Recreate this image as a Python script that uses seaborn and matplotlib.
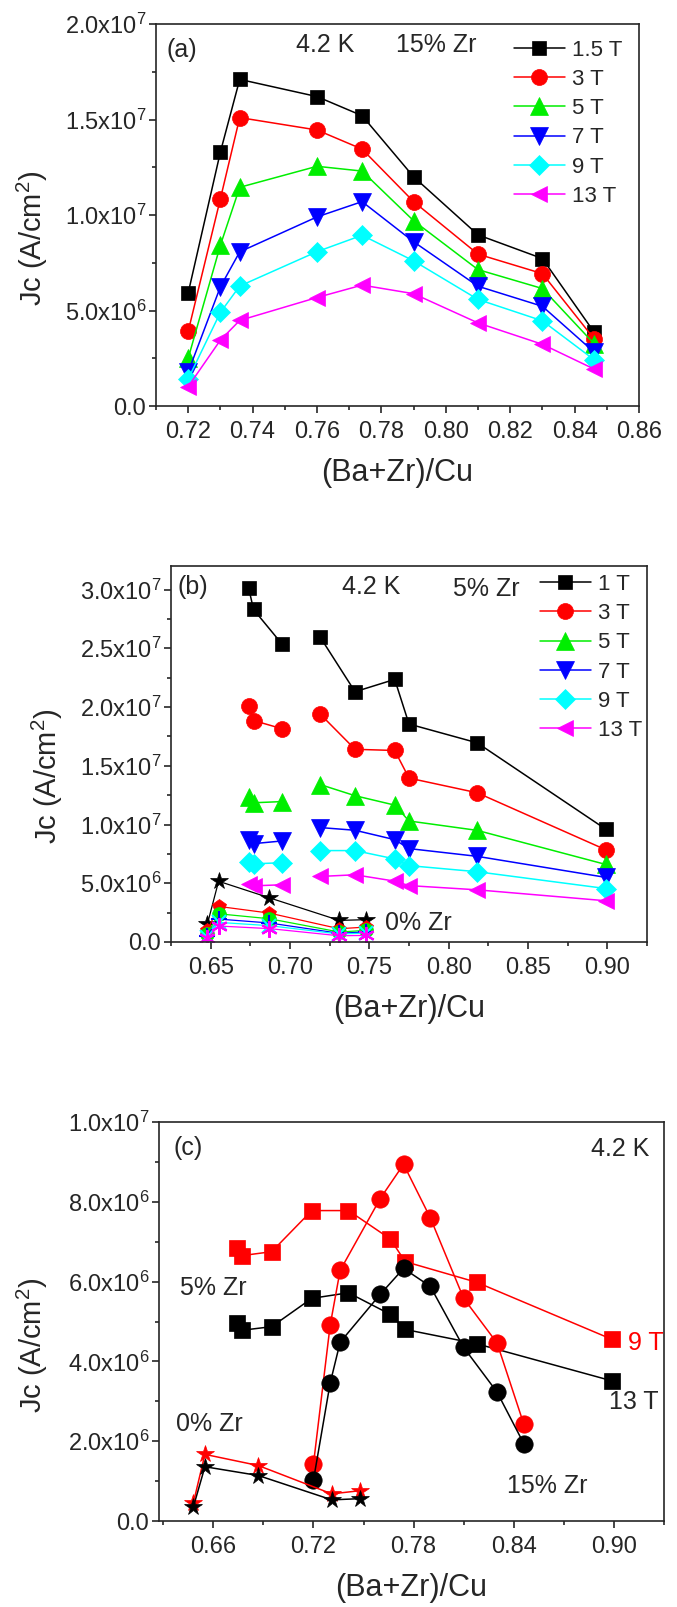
import numpy as np
import pandas as pd
import matplotlib
matplotlib.use("Agg")
import matplotlib.pyplot as plt
import seaborn as sns
from matplotlib.ticker import FuncFormatter, MultipleLocator

# ---------------- data ----------------
# 15% Zr samples
x15 = [0.720, 0.730, 0.736, 0.760, 0.774, 0.790, 0.810, 0.830, 0.846]
a_1p5T = [5.92e6, 13.3e6, 17.1e6, 16.2e6, 15.2e6, 12.0e6, 8.96e6, 7.72e6, 3.88e6]
a_3T = [3.91e6, 10.85e6, 15.1e6, 14.45e6, 13.45e6, 10.7e6, 7.95e6, 6.93e6, 3.53e6]
a_5T = [2.5e6, 8.42e6, 11.45e6, 12.55e6, 12.3e6, 9.7e6, 7.14e6, 6.15e6, 3.27e6]
a_7T = [1.78e6, 6.24e6, 8.07e6, 9.9e6, 10.7e6, 8.6e6, 6.27e6, 5.22e6, 2.83e6]
a_9T = [1.42e6, 4.9e6, 6.28e6, 8.08e6, 8.94e6, 7.6e6, 5.58e6, 4.46e6, 2.43e6]
a_13T = [1.02e6, 3.45e6, 4.48e6, 5.68e6, 6.33e6, 5.88e6, 4.35e6, 3.23e6, 1.94e6]
labels_a = ["1.5 T", "3 T", "5 T", "7 T", "9 T", "13 T"]

# 5% Zr samples
x5 = [0.674, 0.677, 0.695, 0.719, 0.741, 0.766, 0.775, 0.818, 0.899]
b_1T = [30.1e6, 28.3e6, 25.35e6, 25.95e6, 21.3e6, 22.35e6, 18.55e6, 16.95e6, 9.6e6]
b_3T = [20.05e6, 18.85e6, 18.15e6, 19.4e6, 16.4e6, 16.3e6, 13.95e6, 12.7e6, 7.85e6]
b_5T = [12.3e6, 11.85e6, 11.95e6, 13.4e6, 12.45e6, 11.65e6, 10.3e6, 9.5e6, 6.6e6]
b_7T = [8.66e6, 8.37e6, 8.6e6, 9.74e6, 9.51e6, 8.71e6, 7.95e6, 7.29e6, 5.5e6]
b_9T = [6.85e6, 6.65e6, 6.75e6, 7.78e6, 7.78e6, 7.07e6, 6.5e6, 5.98e6, 4.55e6]
b_13T = [4.96e6, 4.78e6, 4.87e6, 5.58e6, 5.72e6, 5.18e6, 4.80e6, 4.44e6, 3.51e6]
labels_b = ["1 T", "3 T", "5 T", "7 T", "9 T", "13 T"]

# 0% Zr samples
x0 = [0.648, 0.655, 0.687, 0.731, 0.748]
z_1T = [1.56e6, 5.17e6, 3.76e6, 1.84e6, 1.90e6]
z_3T = [1.0e6, 3.03e6, 2.46e6, 1.13e6, 1.27e6]
z_5T = [0.71e6, 2.4e6, 1.98e6, 0.85e6, 0.99e6]
z_7T = [0.55e6, 1.95e6, 1.62e6, 0.74e6, 0.86e6]
z_9T = [0.44e6, 1.67e6, 1.39e6, 0.68e6, 0.76e6]
z_13T = [0.34e6, 1.36e6, 1.14e6, 0.53e6, 0.56e6]

# ---------------- style ----------------
sns.set_style("ticks")
plt.rcParams["font.family"] = ["Liberation Sans", "DejaVu Sans"]
plt.rcParams["mathtext.fontset"] = "custom"
plt.rcParams["mathtext.rm"] = "Liberation Sans"
plt.rcParams["mathtext.it"] = "Liberation Sans:italic"
plt.rcParams["mathtext.default"] = "regular"
plt.rcParams["axes.linewidth"] = 1.2

colors = ["#000000", "#FF0000", "#00EE00", "#0000FF", "#00FFFF", "#FF00FF"]
markers = ["s", "o", "^", "v", "D", "<"]
msizes = [10.5, 11.5, 13, 13, 10.5, 12]

TICK = 17
LAB = 21
ANN = 18
LEG = 16


def sci(v, pos):
    if v <= 1e-9:
        return "0.0"
    e = int(np.floor(np.log10(v) + 1e-9))
    m = v / 10 ** e
    return f"{m:.1f}x10$^{{{e}}}$"


def style_axes(ax, xmaj, xmin, ymaj, ymin, ylab_x):
    ax.xaxis.set_major_locator(MultipleLocator(xmaj))
    ax.xaxis.set_minor_locator(MultipleLocator(xmin))
    ax.yaxis.set_major_locator(MultipleLocator(ymaj))
    ax.yaxis.set_minor_locator(MultipleLocator(ymin))
    ax.yaxis.set_major_formatter(FuncFormatter(sci))
    ax.tick_params(which="major", direction="out", length=5, width=1.2,
                   labelsize=TICK, top=False, right=False)
    ax.tick_params(which="minor", direction="out", length=3, width=1.2,
                   top=False, right=False)
    ax.tick_params(axis="x", which="major", pad=6)
    ax.tick_params(axis="y", which="major", pad=2)
    for s in ax.spines.values():
        s.set_visible(True)
        s.set_linewidth(1.2)
    ax.set_ylabel("Jc (A/cm$^{2}$)", fontsize=LAB)
    ax.yaxis.set_label_coords(ylab_x, 0.44)
    ax.set_xlabel("(Ba+Zr)/Cu", fontsize=22, labelpad=10.5)


def line(ax, x, y, color, marker, ms, label=None, lw=1.1):
    sns.lineplot(x=x, y=y, ax=ax, color=color, marker=marker, markersize=ms,
                 markeredgecolor=color, markeredgewidth=0.5, linewidth=lw,
                 sort=False, estimator=None, label=label, legend=False)


W, H = 677, 1607
fig = plt.figure(figsize=(W / 100, H / 100), dpi=100)


def add_ax(l, r, t, b):
    return fig.add_axes([l / W, 1 - b / H, (r - l) / W, (b - t) / H])


leg_kw = dict(loc="upper left", frameon=False, fontsize=LEG, handlelength=2.3,
              handletextpad=0.3, labelspacing=0.37, borderaxespad=0,
              borderpad=0, numpoints=1)

# ---------------- panel (a) ----------------
ax1 = add_ax(156, 639, 24, 406)
series_a = [a_1p5T, a_3T, a_5T, a_7T, a_9T, a_13T]
for y, c, m, ms, lab in zip(series_a, colors, markers, msizes, labels_a):
    line(ax1, x15, y, c, m, ms, label=lab)
ax1.set_xlim(0.71, 0.86)
ax1.set_ylim(0, 2.0e7)
style_axes(ax1, 0.02, 0.01, 5e6, 2.5e6, -0.219)
ax1.legend(bbox_to_anchor=(0.741, 0.959), **leg_kw)
ax1.text(0.021, 0.932, "(a)", transform=ax1.transAxes, fontsize=ANN, va="center", ha="left")
ax1.text(0.29, 0.945, "4.2 K", transform=ax1.transAxes, fontsize=ANN, va="center", ha="left")
ax1.text(0.497, 0.945, "15% Zr", transform=ax1.transAxes, fontsize=ANN, va="center", ha="left")

# ---------------- panel (b) ----------------
ax2 = add_ax(171, 647, 566, 942)
series_b = [b_1T, b_3T, b_5T, b_7T, b_9T, b_13T]
for y, c, m, ms, lab in zip(series_b, colors, markers, msizes, labels_b):
    line(ax2, x5[:3], y[:3], c, m, ms, label=lab)
    line(ax2, x5[3:], y[3:], c, m, ms)

series_z = [z_1T, z_3T, z_5T, z_7T, z_9T, z_13T]
z_markers = ["*", "p", "o", "+", "x", (6, 2, 0)]
z_ms = [13, 10, 10, 12, 10, 12]
for y, c, m, ms in zip(series_z, colors, z_markers, z_ms):
    thin = m in ("+", "x") or isinstance(m, tuple)
    sns.lineplot(x=x0, y=y, ax=ax2, color=c, marker=m, markersize=ms,
                 markeredgecolor=c, markeredgewidth=1.5 if thin else 0.5,
                 linewidth=0.9, sort=False, estimator=None, legend=False)
ax2.set_xlim(0.625, 0.925)
ax2.set_ylim(0, 3.2e7)
style_axes(ax2, 0.05, 0.025, 5e6, 2.5e6, -0.223)
ax2.legend(bbox_to_anchor=(0.775, 0.979), **leg_kw)
ax2.text(0.013, 0.944, "(b)", transform=ax2.transAxes, fontsize=ANN, va="center", ha="left")
ax2.text(0.359, 0.944, "4.2 K", transform=ax2.transAxes, fontsize=ANN, va="center", ha="left")
ax2.text(0.592, 0.939, "5% Zr", transform=ax2.transAxes, fontsize=ANN, va="center", ha="left")
ax2.text(0.45, 0.05, "0% Zr", transform=ax2.transAxes, fontsize=ANN, va="center", ha="left")

# ---------------- panel (c) ----------------
ax3 = add_ax(159, 664, 1122, 1521)
red, black = "#FF0000", "#000000"
line(ax3, x5, b_9T, red, "s", 11)
line(ax3, x5, b_13T, black, "s", 11)
line(ax3, x15, a_9T, red, "o", 12.5)
line(ax3, x15, a_13T, black, "o", 12.5)
line(ax3, x0, z_9T, red, "*", 13)
line(ax3, x0, z_13T, black, "*", 13)
ax3.set_xlim(0.6275, 0.93)
ax3.set_ylim(0, 1.0e7)
style_axes(ax3, 0.06, 0.03, 2e6, 1e6, -0.216)
ax3.text(0.028, 0.935, "(c)", transform=ax3.transAxes, fontsize=ANN, va="center", ha="left")
ax3.text(0.855, 0.932, "4.2 K", transform=ax3.transAxes, fontsize=ANN, va="center", ha="left")
ax3.text(0.042, 0.584, "5% Zr", transform=ax3.transAxes, fontsize=ANN, va="center", ha="left")
ax3.text(0.034, 0.243, "0% Zr", transform=ax3.transAxes, fontsize=ANN, va="center", ha="left")
ax3.text(0.689, 0.088, "15% Zr", transform=ax3.transAxes, fontsize=ANN, va="center", ha="left")
ax3.text(0.929, 0.446, "9 T", transform=ax3.transAxes, fontsize=ANN, va="center", ha="left",
         color=red, clip_on=True)
ax3.text(0.891, 0.298, "13 T", transform=ax3.transAxes, fontsize=ANN, va="center", ha="left")

fig.savefig("out.png", dpi=100)
